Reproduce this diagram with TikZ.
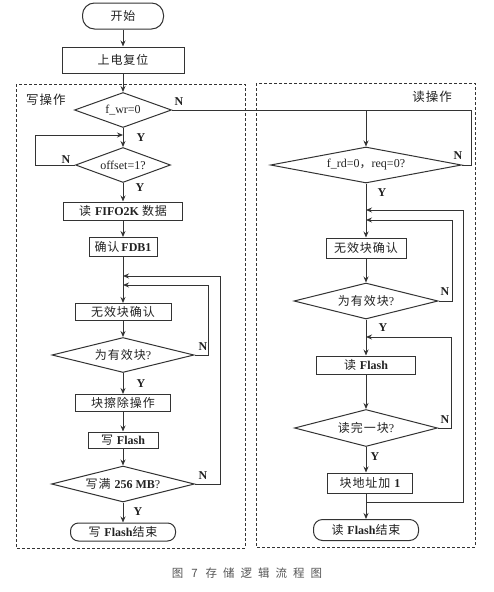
\documentclass[tikz,border=0pt]{standalone}
\usepackage{fontspec}
\setmainfont{Liberation Serif}
\newfontfamily\cjk[LetterSpace=8]{Noto Sans CJK SC}
\newfontfamily\cjkcap{Noto Sans CJK SC}
\usetikzlibrary{shapes.geometric,arrows.meta}
\definecolor{linec}{HTML}{333333}
\definecolor{txtc}{HTML}{222222}
\definecolor{capc}{HTML}{555555}
\begin{document}
\begin{tikzpicture}[x=1pt,y=-1pt,
  every node/.style={text=txtc},
  box/.style={draw=linec, line width=1pt, inner sep=0pt, font=\fontsize{12}{13}\selectfont},
  term/.style={box, rounded corners=10pt},
  dia/.style={draw=linec, line width=1pt, diamond, aspect=4, inner sep=0pt, font=\fontsize{12}{13}\selectfont},
  arr/.style={draw=linec, line width=0.9pt, -{Stealth[length=6pt,width=5pt]}},
  ln/.style={draw=linec, line width=0.9pt},
  lab/.style={font=\bfseries\fontsize{12}{13}\selectfont, inner sep=0pt},
  frame/.style={draw=linec, line width=0.8pt, dash pattern=on 3pt off 2pt},
  ttl/.style={font=\cjk\fontsize{12.5}{13}\selectfont, inner sep=0pt}]
\useasboundingbox (0,0) rectangle (494,592);

% frames
\draw[frame] (16,84) rectangle (245,548);
\draw[frame] (256,83) rectangle (475,547);
\node[ttl] (wt) at (46,100) {写操作};
\node[ttl] (rt) at (432,97) {读操作};

% left column
\node[term, minimum width=81pt, minimum height=26pt, rounded corners=12pt] (start) at (123,16) {\cjk 开始};
\node[box, minimum width=122pt, minimum height=26pt] (reset) at (123,60) {\cjk 上电复位};
\node[dia, minimum width=97pt, minimum height=35pt] (fwr) at (123,110) {f\_wr=0};
\node[dia, minimum width=95pt, minimum height=35pt] (offs) at (123,165) {offset=1?};
\node[box, minimum width=119pt, minimum height=18pt] (fifo) at (123,211) {{\cjk 读} \textbf{FIFO2K} {\cjk 数据}};
\node[box, minimum width=68pt, minimum height=19pt] (fdb) at (123,247) {{\cjk 确认}\,\textbf{FDB1}};
\node[box, minimum width=96pt, minimum height=17pt] (inv1) at (123,312) {\cjk 无效块确认};
\node[dia, minimum width=142pt, minimum height=35pt] (val1) at (123,355) {{\cjk 为有效块}?};
\node[box, minimum width=95pt, minimum height=17pt] (erase) at (123,403) {\cjk 块擦除操作};
\node[box, minimum width=70pt, minimum height=16pt] (wfl) at (123,440) {{\cjk 写} \textbf{Flash}};
\node[dia, minimum width=143pt, minimum height=36pt] (full) at (123,484) {{\cjk 写满} \textbf{256 MB}?};
\node[term, minimum width=105pt, minimum height=18pt, rounded corners=8pt] (wend) at (123,532) {{\cjk 写} \textbf{Flash}{\cjk 结束}};

% right column
\node[dia, minimum width=191pt, minimum height=36pt] (frd) at (366,165) {f\_rd=0{\cjk ，}req=0?};
\node[box, minimum width=80pt, minimum height=20pt] (inv2) at (366,248) {\cjk 无效块确认};
\node[dia, minimum width=144pt, minimum height=36pt] (val2) at (366,301) {{\cjk 为有效块}?};
\node[box, minimum width=99pt, minimum height=18pt] (rfl) at (366,365) {{\cjk 读} \textbf{Flash}};
\node[dia, minimum width=143pt, minimum height=37pt] (done) at (366,428) {{\cjk 读完一块}?};
\node[box, minimum width=85pt, minimum height=20pt] (addr) at (370,483) {{\cjk 块地址加} \textbf{1}};
\node[term, minimum width=105pt, minimum height=21pt, rounded corners=9pt] (rend) at (366,530) {{\cjk 读} \textbf{Flash}{\cjk 结束}};

% junction coordinates
\coordinate (wl) at (123,135);
\coordinate (wlx) at (35,135);
\coordinate (ja) at (123,276);
\coordinate (jb) at (123,285);
\coordinate (rtop) at (366,110);
\coordinate (rx) at (471,110);
\coordinate (ra) at (366,210);
\coordinate (rb) at (366,220);
\coordinate (rc) at (366,337);
\coordinate (rd) at (366,502);

% left connectors
\draw[arr] (start) -- (reset);
\draw[arr] (reset) -- (fwr);
\draw[arr] (fwr) -- (offs);
\draw[ln] (offs.west) -- (offs.west -| wlx) -- (wlx);
\draw[arr] (wlx) -- (wl);
\draw[arr] (offs) -- (fifo);
\draw[arr] (fifo) -- (fdb);
\draw[arr] (fdb) -- (inv1);
\draw[arr] (inv1) -- (val1);
\draw[arr] (val1) -- (erase);
\draw[arr] (erase) -- (wfl);
\draw[arr] (wfl) -- (full);
\draw[arr] (full) -- (wend);
\draw[ln] (val1.east) -- ++(14,0) coordinate (v1r) -- (v1r |- jb);
\draw[arr] (v1r |- jb) -- (jb);
\draw[ln] (full.east) -- ++(25,0) coordinate (flr) -- (flr |- ja);
\draw[arr] (flr |- ja) -- (ja);

% cross connector
\draw[ln] (fwr.east) -- (rx) -- (rx |- frd.east) -- (frd.east);
\draw[arr] (rtop) -- (frd);

% right connectors
\draw[arr] (frd) -- (inv2);
\draw[arr] (inv2) -- (val2);
\draw[arr] (val2) -- (rfl);
\draw[arr] (rfl) -- (done);
\draw[arr] (done.south) -- (done.south |- addr.north);
\draw[arr] (done.south |- addr.south) -- (rend);
\draw[ln] (val2.east) -- ++(14,0) coordinate (v2r) -- (v2r |- rb);
\draw[arr] (v2r |- rb) -- (rb);
\draw[ln] (done.east) -- ++(13,0) coordinate (dr) -- (dr |- rc);
\draw[arr] (dr |- rc) -- (rc);
\draw[ln] (rd) -- (463,502) coordinate (rdr) -- (rdr |- ra);
\draw[arr] (rdr |- ra) -- (ra);

% labels
\node[lab] (ln1) at (179,102) {N};
\node[lab] (ly1) at (141,138) {Y};
\node[lab] (ln2) at (66,160) {N};
\node[lab] (ly2) at (140,188) {Y};
\node[lab] (ln3) at (203,347) {N};
\node[lab] (ly3) at (141,384) {Y};
\node[lab] (ln4) at (203,476) {N};
\node[lab] (ly4) at (138,512) {Y};
\node[lab] (ln5) at (458,156) {N};
\node[lab] (ly5) at (382,193) {Y};
\node[lab] (ln6) at (445,292) {N};
\node[lab] (ly6) at (383,328) {Y};
\node[lab] (ln7) at (445,420) {N};
\node[lab] (ly7) at (375,457) {Y};

% caption
\node[font=\cjkcap\fontsize{11.5}{12}\selectfont, text=capc, inner sep=0pt] (cap) at (247,573) {图\hspace{8pt}7\hspace{8pt}存\hspace{6pt}储\hspace{6pt}逻\hspace{6pt}辑\hspace{6pt}流\hspace{6pt}程\hspace{6pt}图};
\end{tikzpicture}
\end{document}
